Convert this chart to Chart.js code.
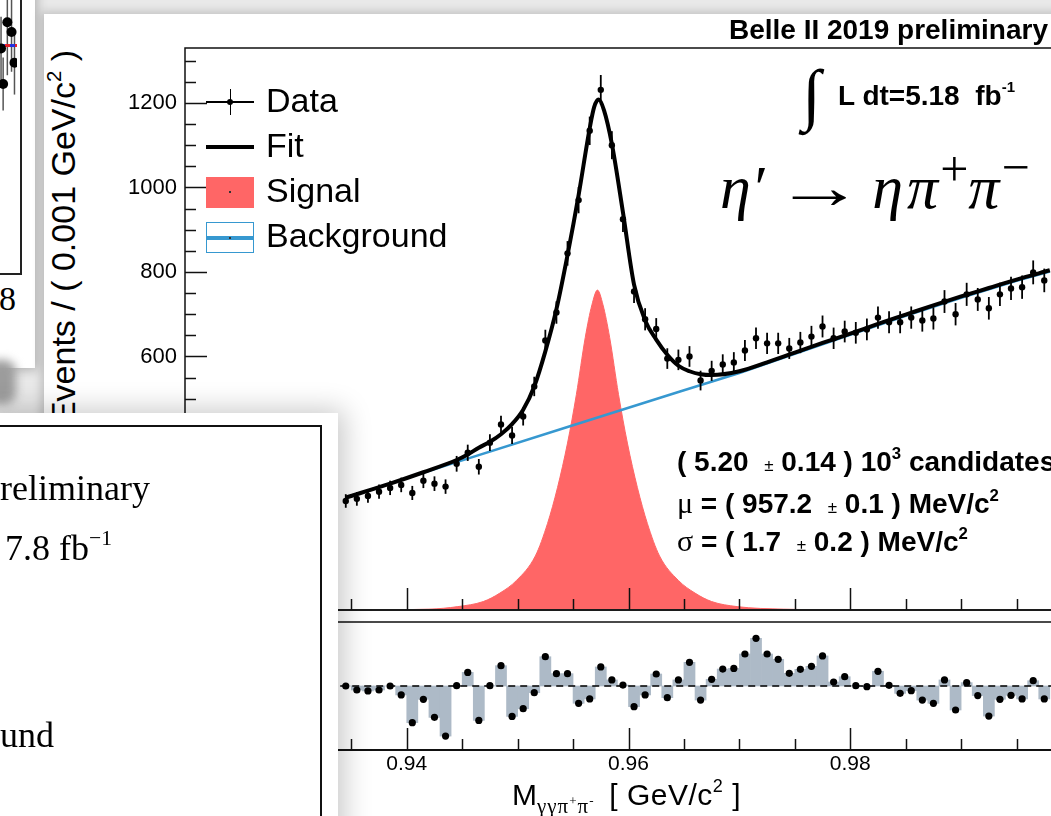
<!DOCTYPE html>
<html lang="en">
<head>
<meta charset="utf-8">
<title>eta' to eta pi+ pi- mass fit</title>
<script src="https://cdn.jsdelivr.net/npm/chart.js@4.4.1/dist/chart.umd.min.js"></script>
<style>
  html, body { margin: 0; padding: 0; }
  body {
    position: relative; width: 1051px; height: 816px; overflow: hidden;
    background: #e9e9e9; color: #000;
    font-family: "Liberation Sans", Arial, Helvetica, sans-serif;
  }
  .abs { position: absolute; white-space: pre; line-height: 1; }
  .sheet { position: absolute; background: #fff; }
  .serif { font-family: "Liberation Serif", "Times New Roman", serif; }
  .sup { font-size: 0.6em; vertical-align: 0.7em; line-height: 0; }
  .box { position: absolute; }
  #sheetTL { left: -20px; top: -20px; width: 55px; height: 388px; box-shadow: 2px 2px 10px rgba(0,0,0,0.25); z-index: 1; }
  #blob { position: absolute; left: -14px; top: 360px; width: 30px; height: 44px; background: #9c9c9c; border-radius: 12px; filter: blur(5px); z-index: 1; }
  #sheetMain { left: 44px; top: 14px; width: 1100px; height: 900px; box-shadow: -3px -2px 9px rgba(0,0,0,0.18); z-index: 1; }
  #sheetLL { left: -20px; top: 413px; width: 358px; height: 500px; box-shadow: 6px -3px 26px rgba(0,0,0,0.22); z-index: 6; }
  #llFrame { position: absolute; left: -40px; top: 425px; width: 358px; height: 500px; border: 2px solid #111; z-index: 7; }
  .ll { z-index: 8; font-size: 36px; }
  #fragBox { position: absolute; left: -30px; top: 0; width: 52px; height: 275px; z-index: 2; }
  #fragFrame { position: absolute; left: -20px; top: -5px; width: 40px; height: 278px; border-right: 2px solid #222; border-bottom: 2px solid #222; z-index: 2; }
  #mainBox { position: absolute; left: 105px; top: 40px; width: 971px; height: 574px; z-index: 2; }
  #resBox { position: absolute; left: 105px; top: 600px; width: 971px; height: 190px; z-index: 2; }
  .txt { z-index: 3; }
  .leg { font-size: 34px; z-index: 3; }
  .b28 { font-size: 28px; font-weight: bold; z-index: 3; }
  .pm { font-size: 17px; font-weight: normal; }
  .greek { font-family: "Liberation Serif", "Times New Roman", serif; font-weight: normal; font-size: 30px; }
  .up { display: inline-block; font-style: normal; }
</style>
</head>
<body>

<div class="sheet" id="sheetTL"></div>
<div id="fragFrame"></div>
<div id="fragBox"><canvas id="fragCanvas"></canvas></div>
<div class="abs serif txt" style="left:-1px;top:282px;font-size:34px;z-index:2;">8</div>
<div id="blob"></div>

<div class="sheet" id="sheetMain"></div>

<div class="abs txt" id="title" style="right:3px;top:16px;font-size:28px;font-weight:bold;">Belle II 2019 preliminary</div>
<div class="abs txt" id="ytitle" style="left:63px;top:237px;font-size:34px;transform:translate(-50%,-50%) rotate(-90deg);">Events / ( 0.001 GeV/c<span class="sup">2</span> )</div>

<div id="mainBox"><canvas id="mainCanvas"></canvas></div>
<div id="resBox"><canvas id="resCanvas"></canvas></div>

<!-- legend -->
<div class="box txt" style="left:206px;top:101px;width:48px;height:1.5px;background:#000;"></div>
<div class="box txt" style="left:229.5px;top:89px;width:1.5px;height:26px;background:#000;"></div>
<div class="box txt" style="left:227px;top:99px;width:6px;height:6px;border-radius:50%;background:#000;"></div>
<div class="abs leg" style="left:266px;top:83px;">Data</div>
<div class="box txt" style="left:206px;top:145px;width:48px;height:4px;background:#000;"></div>
<div class="abs leg" style="left:266px;top:128px;">Fit</div>
<div class="box txt" style="left:206px;top:177px;width:48px;height:31px;background:#ff6666;"></div>
<div class="box txt" style="left:229px;top:191px;width:2px;height:2px;background:#333;"></div>
<div class="abs leg" style="left:266px;top:173px;">Signal</div>
<div class="box txt" style="left:206px;top:222px;width:48px;height:31px;box-sizing:border-box;border:1.5px solid #3698d0;"></div>
<div class="box txt" style="left:206px;top:236px;width:48px;height:4px;background:#3698d0;"></div>
<div class="box txt" style="left:229px;top:237px;width:2px;height:2px;background:#333;"></div>
<div class="abs leg" style="left:266px;top:218px;">Background</div>

<!-- annotations -->
<div class="abs serif txt" style="left:802px;top:60px;font-size:68px;font-weight:bold;">∫</div>
<div class="abs b28" style="left:838px;top:82px;">L dt=5.18  fb<span style="font-size:15px;vertical-align:13px;line-height:0;">-1</span></div>
<div class="abs serif txt" style="left:720px;top:156px;font-size:62px;font-style:italic;">η′<span class="up" style="margin-left:10px;transform:scaleX(1.45);transform-origin:left center;">→</span><span style="margin-left:36px;">η</span><span style="margin-left:4px;">π</span><span class="up" style="font-size:50px;vertical-align:22px;line-height:0;margin-left:2px;">+</span>π<span class="up" style="font-size:50px;vertical-align:24px;line-height:0;margin-left:2px;">−</span></div>

<div class="abs b28" style="left:677px;top:448px;">( 5.20  <span class="pm">±</span> 0.14 ) 10<span class="sup">3</span> candidates</div>
<div class="abs b28" style="left:677px;top:488px;"><span class="greek">μ</span> = ( 957.2  <span class="pm">±</span> 0.1 ) MeV/c<span class="sup">2</span></div>
<div class="abs b28" style="left:677px;top:526px;"><span class="greek">σ</span> = ( 1.7  <span class="pm">±</span> 0.2 ) MeV/c<span class="sup">2</span></div>

<div class="abs txt" style="left:512px;top:780px;font-size:30px;">M<span class="serif" style="font-size:21px;vertical-align:-8px;letter-spacing:1px;">γγπ<span style="font-size:13px;vertical-align:8px;">+</span>π<span style="font-size:13px;vertical-align:8px;">-</span></span><span style="margin-left:6px;letter-spacing:0.5px;"> [ GeV/c<span class="sup">2</span> ]</span></div>

<!-- lower-left overlapping page -->
<div class="sheet" id="sheetLL"></div>
<div id="llFrame"></div>
<div class="abs serif ll" style="left:0px;top:470px;">reliminary</div>
<div class="abs serif ll" style="left:5px;top:530px;">7.8 fb<span class="sup">−1</span></div>
<div class="abs serif ll" style="left:0px;top:717px;">und</div>

<script>
// bin centres of M(γγπ+π−) in GeV/c², 1 MeV bins
const binCenters = [
  0.9345, 0.9355, 0.9365, 0.9375, 0.9385, 0.9395, 0.9405, 0.9415, 0.9425, 0.9435,
  0.9445, 0.9455, 0.9465, 0.9475, 0.9485, 0.9495, 0.9505, 0.9515, 0.9525, 0.9535,
  0.9545, 0.9555, 0.9565, 0.9575, 0.9585, 0.9595, 0.9605, 0.9615, 0.9625, 0.9635,
  0.9645, 0.9655, 0.9665, 0.9675, 0.9685, 0.9695, 0.9705, 0.9715, 0.9725, 0.9735,
  0.9745, 0.9755, 0.9765, 0.9775, 0.9785, 0.9795, 0.9805, 0.9815, 0.9825, 0.9835,
  0.9845, 0.9855, 0.9865, 0.9875, 0.9885, 0.9895, 0.9905, 0.9915, 0.9925, 0.9935,
  0.9945, 0.9955, 0.9965, 0.9975
];
// events per bin (data points)
const counts = [
  258, 263, 270, 280, 289, 296, 277, 306, 299, 292,
  346, 372, 339, 396, 439, 413, 458, 529, 638, 704,
  844, 970, 1134, 1231, 1100, 925, 754, 688, 665, 595,
  592, 600, 543, 566, 581, 586, 614, 643, 631, 631,
  619, 633, 647, 671, 643, 659, 656, 664, 692, 681,
  681, 692, 685, 690, 730, 700, 747, 735, 714, 747,
  761, 764, 799, 780
];
// pulls shown in the lower panel
const pulls = [
  0.0, -0.25, -0.31, -0.25, 0.0, -0.56, -2.29, -0.83, -1.96, -3.13,
  0.02, 0.85, -2.15, 0.02, 1.27, -1.9, -1.42, -0.42, 1.83, 0.77,
  0.77, -1.08, -0.81, 1.19, 0.38, 0.06, -1.29, -0.56, 0.75, -0.73,
  0.38, 1.48, -0.88, 0.42, 1.06, 1.1, 2.0, 2.98, 2.0, 1.67,
  0.79, 1.04, 1.23, 1.88, 0.25, 0.58, 0.02, -0.04, 0.92, 0.04,
  -0.46, -0.29, -0.88, -1.08, 0.38, -1.5, 0.21, -0.6, -1.88, -0.83,
  -0.58, -0.81, 0.33, -0.81
];

// total fit curve
const fitX = [
  0.9345, 0.9385, 0.9415, 0.9445, 0.9455, 0.9465, 0.9475, 0.9485, 0.9495, 0.9505,
  0.9515, 0.9525, 0.9535, 0.9545, 0.9555, 0.9565, 0.9569, 0.9573, 0.9578, 0.9585,
  0.9595, 0.9605, 0.9615, 0.9625, 0.9635, 0.9645, 0.9655, 0.9665, 0.9675, 0.9700,
  0.9725, 0.9750, 0.9775, 0.9800, 0.9825, 0.9850, 0.9875, 0.9900, 0.9925, 0.9950,
  0.9980
];
const fitY = [
  266, 299, 326, 355, 368, 384, 398, 416, 440, 474,
  529, 612, 712, 840, 982, 1140, 1190, 1208, 1182, 1103,
  941, 770, 685, 640, 604, 578, 565, 558, 556, 565,
  586, 609, 632, 654, 677, 699, 721, 742, 762, 782,
  804
];

// signal component (filled)
const sigX = [
  0.9345, 0.9420, 0.9446, 0.9469, 0.9484, 0.9499, 0.9516, 0.9527, 0.9536, 0.9545,
  0.9553, 0.9561, 0.9567, 0.9572, 0.9577, 0.9583, 0.9591, 0.9599, 0.9608, 0.9617,
  0.9628, 0.9645, 0.9660, 0.9675, 0.9698, 0.9740, 0.9800, 0.9980
];
const sigY = [
  0, 2, 8, 20, 40, 70, 128, 205, 290, 395,
  510, 645, 722, 757, 722, 645, 510, 395, 290, 205,
  128, 70, 40, 20, 8, 2, 0, 0
];

// background component
const bgX = [0.9345, 0.9445, 0.9545, 0.9645, 0.9700, 0.9750, 0.9800, 0.9850, 0.9900, 0.9950, 0.9980];
const bgY = [266, 350, 433, 516, 561, 606, 651, 696, 739, 779, 801];

// zero line of the pull panel
const zeroX = [0.9340, 1.0];
const zeroY = [0, 0];

// axis ticks
const yLabelTicks = [0, 200, 400, 600, 800, 1000, 1200];
const xLabelTicks = [0.94, 0.96, 0.98];

// bits of the neighbouring plot at the top left
const fragX = [0.77, 0.87, 0.62, 0.67, 0.94];
const fragY = [0.935, 0.898, 0.836, 0.702, 0.782];
const fragErr = [0.2, 0.15, 0.12, 0.1, 0.12];
const fragLineX = [0, 1];
const fragLineY = [0.847, 0.847];

const FONT = '"Liberation Sans", Arial, sans-serif';
const RED = '#ff6666';
const BLUE = '#3698d0';
const GREY = '#adbac7';

const pts = (xs, ys) => xs.map((x, i) => ({ x: x, y: ys[i] }));

// ticks pointing inward, like ROOT does
function drawTicks(ctx, a, x, y, yTicks) {
  ctx.save();
  ctx.strokeStyle = '#111';
  ctx.lineWidth = 1.5;
  for (let k = 0; k <= 16; k++) {
    const v = 0.92 + k * 0.005;
    const px = Math.round(x.getPixelForValue(v)) + 0.5;
    const len = k % 4 === 0 ? 22 : 11;
    ctx.beginPath();
    ctx.moveTo(px, a.bottom);
    ctx.lineTo(px, a.bottom - len);
    ctx.stroke();
  }
  if (yTicks) {
    for (let v = 0; v <= 1300; v += 50) {
      const py = Math.round(y.getPixelForValue(v)) + 0.5;
      const len = v % 200 === 0 ? 22 : 11;
      ctx.beginPath();
      ctx.moveTo(a.left, py);
      ctx.lineTo(a.left + len, py);
      ctx.stroke();
    }
  }
  ctx.restore();
}

const mainFrame = {
  id: 'mainFrame',
  afterDraw(chart) {
    const { ctx, chartArea: a, scales: { x, y } } = chart;
    ctx.save();
    ctx.strokeStyle = '#111';
    ctx.lineWidth = 1.5;
    ctx.beginPath();
    ctx.moveTo(a.left, a.bottom);
    ctx.lineTo(a.left, a.top);
    ctx.lineTo(a.right, a.top);
    ctx.lineTo(a.right, a.bottom);
    ctx.stroke();
    ctx.lineWidth = 2.2;
    ctx.strokeStyle = '#1c1c1c';
    ctx.beginPath();
    ctx.moveTo(a.left, a.bottom);
    ctx.lineTo(a.right, a.bottom);
    ctx.stroke();
    ctx.restore();
    drawTicks(ctx, a, x, y, true);
  }
};

const errorBars = {
  id: 'errorBars',
  afterDatasetsDraw(chart) {
    const { ctx, scales: { x, y } } = chart;
    ctx.save();
    ctx.strokeStyle = '#000';
    ctx.lineWidth = 1.8;
    binCenters.forEach((m, i) => {
      const n = counts[i];
      const e = Math.sqrt(n);   // Poisson error
      const px = x.getPixelForValue(m);
      ctx.beginPath();
      ctx.moveTo(px, y.getPixelForValue(n - e));
      ctx.lineTo(px, y.getPixelForValue(n + e));
      ctx.stroke();
    });
    ctx.restore();
  }
};

const resFrame = {
  id: 'resFrame',
  afterDraw(chart) {
    const { ctx, chartArea: a, scales: { x, y } } = chart;
    ctx.save();
    ctx.lineWidth = 2;
    ctx.strokeStyle = '#4a4a4a';
    ctx.beginPath();
    ctx.moveTo(a.left, a.top);
    ctx.lineTo(a.right, a.top);
    ctx.stroke();
    ctx.strokeStyle = '#111';
    ctx.beginPath();
    ctx.moveTo(a.left, a.top);
    ctx.lineTo(a.left, a.bottom);
    ctx.lineTo(a.right, a.bottom);
    ctx.stroke();
    ctx.restore();
    drawTicks(ctx, a, x, y, false);
  }
};

new Chart(document.getElementById('mainCanvas'), {
  type: 'line',
  data: {
    datasets: [
      {
        label: 'Data',
        data: pts(binCenters, counts),
        showLine: false,
        pointRadius: 3.2,
        pointBackgroundColor: '#000',
        pointBorderWidth: 0,
        order: 1
      },
      {
        label: 'Fit',
        data: pts(fitX, fitY),
        borderColor: '#000',
        borderWidth: 4,
        pointRadius: 0,
        cubicInterpolationMode: 'monotone',
        fill: false,
        order: 2
      },
      {
        label: 'Background',
        data: pts(bgX, bgY),
        borderColor: BLUE,
        borderWidth: 2.5,
        pointRadius: 0,
        tension: 0,
        fill: false,
        order: 3
      },
      {
        label: 'Signal',
        data: pts(sigX, sigY),
        borderColor: RED,
        backgroundColor: RED,
        borderWidth: 1,
        pointRadius: 0,
        cubicInterpolationMode: 'monotone',
        fill: 'origin',
        order: 4
      }
    ]
  },
  options: {
    responsive: true,
    maintainAspectRatio: false,
    animation: false,
    devicePixelRatio: 1,
    layout: { padding: { top: 8, bottom: 4, left: 0, right: 0 } },
    plugins: { legend: { display: false }, tooltip: { enabled: false } },
    scales: {
      x: { type: 'linear', min: 0.92, max: 1.0, display: false, offset: false },
      y: {
        min: 0,
        max: 1330,
        grid: { display: false, drawTicks: false },
        border: { display: false },
        afterBuildTicks: s => { s.ticks = yLabelTicks.map(v => ({ value: v })); },
        afterFit: s => { s.width = 80; s.paddingTop = 0; s.paddingBottom = 0; },
        ticks: {
          padding: 8,
          color: '#000',
          font: { family: FONT, size: 22 },
          callback: v => String(v)
        }
      }
    }
  },
  plugins: [errorBars, mainFrame]
});

new Chart(document.getElementById('resCanvas'), {
  type: 'bar',
  data: {
    datasets: [
      {
        type: 'line',
        label: 'Pull points',
        data: pts(binCenters, pulls),
        showLine: false,
        pointRadius: 3.6,
        pointBackgroundColor: '#000',
        pointBorderWidth: 0,
        order: 1
      },
      {
        type: 'line',
        label: 'Zero',
        data: pts(zeroX, zeroY),
        borderColor: '#000',
        borderWidth: 1.5,
        borderDash: [7, 5],
        pointRadius: 0,
        order: 2
      },
      {
        type: 'bar',
        label: 'Pull',
        data: pts(binCenters, pulls),
        backgroundColor: GREY,
        borderWidth: 0,
        barPercentage: 1,
        categoryPercentage: 1,
        order: 3
      }
    ]
  },
  options: {
    responsive: true,
    maintainAspectRatio: false,
    animation: false,
    devicePixelRatio: 1,
    layout: { padding: { top: 22, left: 80, right: 0, bottom: 0 } },
    plugins: { legend: { display: false }, tooltip: { enabled: false } },
    scales: {
      x: {
        type: 'linear',
        min: 0.92,
        max: 1.0,
        offset: false,
        grid: { display: false, drawTicks: false, offset: false },
        border: { display: false },
        afterBuildTicks: s => { s.ticks = xLabelTicks.map(v => ({ value: v })); },
        afterFit: s => { s.height = 40; s.paddingLeft = 0; s.paddingRight = 0; },
        ticks: {
          padding: 2,
          maxRotation: 0,
          autoSkip: false,
          color: '#000',
          font: { family: FONT, size: 21 },
          callback: v => v.toFixed(2)
        }
      },
      y: { min: -4, max: 4, display: false }
    }
  },
  plugins: [resFrame]
});

// small piece of the neighbouring figure
const fragBars = {
  id: 'fragBars',
  beforeDatasetsDraw(chart) {
    const { ctx, scales: { x, y } } = chart;
    ctx.save();
    ctx.strokeStyle = '#555';
    ctx.lineWidth = 1.5;
    fragX.forEach((v, i) => {
      const px = x.getPixelForValue(v);
      ctx.beginPath();
      ctx.moveTo(px, y.getPixelForValue(fragY[i] - fragErr[i]));
      ctx.lineTo(px, y.getPixelForValue(fragY[i] + fragErr[i]));
      ctx.stroke();
    });
    ctx.restore();
  }
};

new Chart(document.getElementById('fragCanvas'), {
  type: 'line',
  data: {
    datasets: [
      { data: pts(fragX, fragY), showLine: false, pointRadius: 5, pointBackgroundColor: '#000', pointBorderWidth: 0 },
      { data: pts(fragLineX, fragLineY), borderColor: '#e8202a', borderWidth: 3, borderDash: [5, 5], pointRadius: 0 },
      { data: pts(fragLineX, fragLineY), borderColor: '#2230e0', borderWidth: 3, borderDash: [5, 5], borderDashOffset: 5, pointRadius: 0 }
    ]
  },
  options: {
    responsive: true,
    maintainAspectRatio: false,
    animation: false,
    devicePixelRatio: 1,
    layout: { padding: 0 },
    plugins: { legend: { display: false }, tooltip: { enabled: false } },
    scales: {
      x: { type: 'linear', min: 0, max: 1, display: false },
      y: { min: 0, max: 1, display: false }
    }
  },
  plugins: [fragBars]
});
</script>
</body>
</html>
